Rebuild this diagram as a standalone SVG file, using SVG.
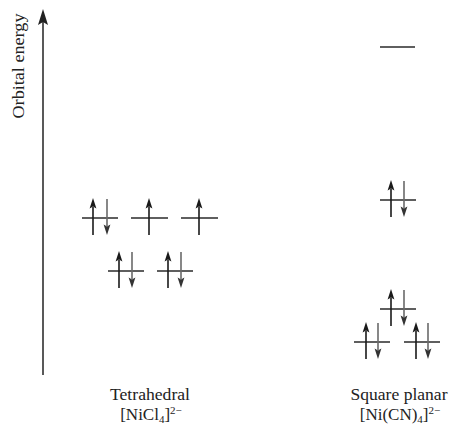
<svg xmlns="http://www.w3.org/2000/svg" xmlns:xlink="http://www.w3.org/1999/xlink" width="452" height="433" viewBox="0 0 452 433">
  <style>
    .level { stroke: #2a2a2a; stroke-width: 1.6; fill: none; }
    .axis { stroke: #222; stroke-width: 1.5; fill: none; }
    .lbl { font-family: "Liberation Serif", "Times New Roman", serif; font-size: 17px; fill: #222; text-anchor: middle; }
    .sub { font-size: 11px; }
  </style>
  <defs>
    <!-- spin-up electron: origin at the level line -->
    <g id="spin-up">
      <line x1="0" y1="-11" x2="0" y2="17" stroke="#1a1a1a" stroke-width="1.6"/>
      <path d="M0,-20 L3.4,-9.5 L0,-11.5 L-3.4,-9.5 Z" fill="#1a1a1a"/>
    </g>
    <!-- spin-down electron: origin at the level line -->
    <g id="spin-down">
      <line x1="0" y1="-19" x2="0" y2="8" stroke="#6a6a6a" stroke-width="1.6"/>
      <path d="M0,17 L3.4,6.5 L0,8.5 L-3.4,6.5 Z" fill="#333"/>
    </g>
  </defs>

  <rect width="452" height="433" fill="#fff"/>

  <!-- energy axis -->
  <g id="axis">
    <line class="axis" x1="43" y1="375" x2="43" y2="20"/>
    <path d="M43,9 L48,25 L43,22 L38,25 Z" fill="#222"/>
    <text class="lbl" transform="translate(24,66) rotate(-90)" textLength="105" lengthAdjust="spacingAndGlyphs">Orbital energy</text>
  </g>

  <!-- tetrahedral splitting -->
  <g id="td-t2-a">
    <line class="level" x1="82" y1="218" x2="118" y2="218"/>
    <use xlink:href="#spin-up" x="93" y="218"/>
    <use xlink:href="#spin-down" x="107" y="218"/>
  </g>
  <g id="td-t2-b">
    <line class="level" x1="131" y1="218" x2="168" y2="218"/>
    <use xlink:href="#spin-up" x="149" y="218"/>
  </g>
  <g id="td-t2-c">
    <line class="level" x1="181" y1="218" x2="218" y2="218"/>
    <use xlink:href="#spin-up" x="199" y="218"/>
  </g>
  <g id="td-e-a">
    <line class="level" x1="108" y1="271" x2="144" y2="271"/>
    <use xlink:href="#spin-up" x="119" y="271"/>
    <use xlink:href="#spin-down" x="132" y="271"/>
  </g>
  <g id="td-e-b">
    <line class="level" x1="157" y1="271" x2="193" y2="271"/>
    <use xlink:href="#spin-up" x="168" y="271"/>
    <use xlink:href="#spin-down" x="181" y="271"/>
  </g>

  <!-- square planar splitting -->
  <g id="sp-x2y2">
    <line class="level" x1="380" y1="47" x2="415" y2="47"/>
  </g>
  <g id="sp-xy">
    <line class="level" x1="380" y1="200" x2="416" y2="200"/>
    <use xlink:href="#spin-up" x="391" y="200"/>
    <use xlink:href="#spin-down" x="404" y="200"/>
  </g>
  <g id="sp-z2">
    <line class="level" x1="380" y1="309" x2="416" y2="309"/>
    <use xlink:href="#spin-up" x="391" y="309"/>
    <use xlink:href="#spin-down" x="404" y="309"/>
  </g>
  <g id="sp-xz">
    <line class="level" x1="354" y1="342" x2="390" y2="342"/>
    <use xlink:href="#spin-up" x="366" y="342"/>
    <use xlink:href="#spin-down" x="378" y="342"/>
  </g>
  <g id="sp-yz">
    <line class="level" x1="404" y1="342" x2="440" y2="342"/>
    <use xlink:href="#spin-up" x="416" y="342"/>
    <use xlink:href="#spin-down" x="428" y="342"/>
  </g>

  <!-- captions -->
  <g id="label-td">
    <text class="lbl" x="150" y="400" textLength="80" lengthAdjust="spacingAndGlyphs">Tetrahedral</text>
    <text class="lbl" x="151" y="420">[NiCl<tspan class="sub" dy="3">4</tspan><tspan dy="-3">]</tspan><tspan class="sub" dy="-6">2−</tspan></text>
  </g>
  <g id="label-sp">
    <text class="lbl" x="399" y="400" textLength="97" lengthAdjust="spacingAndGlyphs">Square planar</text>
    <text class="lbl" x="400" y="420">[Ni(CN)<tspan class="sub" dy="3">4</tspan><tspan dy="-3">]</tspan><tspan class="sub" dy="-6">2−</tspan></text>
  </g>
</svg>
